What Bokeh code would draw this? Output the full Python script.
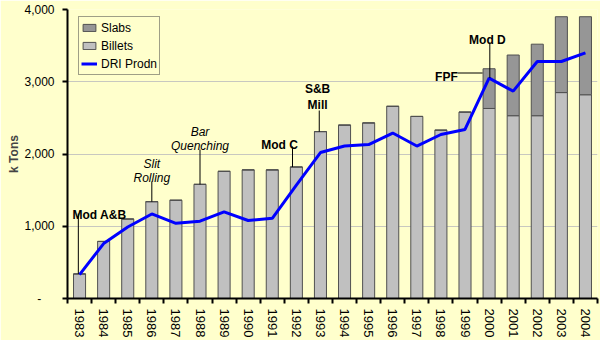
from bokeh.plotting import figure
from bokeh.models import (FixedTicker, Legend, LegendItem, NumeralTickFormatter,
                          Range1d, ColumnDataSource)
from bokeh.core.properties import value
from bokeh.embed import file_html
from bokeh.resources import INLINE

# ---- data ----
years = list(range(1983, 2005))
billets = [340, 790, 1100, 1340, 1360, 1580, 1760, 1780, 1780, 1820, 2310,
           2400, 2430, 2660, 2520, 2330, 2580, 2630, 2530, 2530, 2850, 2820]
slabs = [0] * 17 + [550, 840, 990, 1050, 1080]
dri = [330, 760, 990, 1170, 1040, 1070, 1200, 1080, 1110, 1570, 2020,
       2110, 2130, 2290, 2110, 2270, 2340, 3050, 2870, 3280, 3280, 3400]
y_ticks = [0, 1000, 2000, 3000, 4000]

# annotations (text, position)
ann_text = ["Mod A&B", "Slit", "Rolling", "Bar", "Quenching", "Mod C",
            "S&B", "Mill", "Mod D", "FPF"]
ann_x = [1983.83, 1986.0, 1986.0, 1988.0, 1988.0, 1991.3, 1992.88, 1992.88,
         1999.93, 1998.23]
ann_y = [1156, 1855, 1661, 2298, 2104, 2131, 2893, 2685, 3571, 3059]
ann_bold = [True, False, False, False, False, True, True, True, True, True]

lead_x0 = [1982.95, 1986.0, 1988.0, 1991.84, 1992.95, 2000.03, 1998.69]
lead_y0 = [340, 1340, 1580, 1820, 2310, 3050, 3121]
lead_x1 = [1982.95, 1986.0, 1988.0, 1991.84, 1992.95, 2000.03, 1999.73]
lead_y1 = [1176, 1619, 2062, 2104, 2602, 3543, 3121]

BG = "#FFFFCC"
FONT = "Liberation Sans"

src = ColumnDataSource(dict(year=years, billets=billets, slabs=slabs, dri=dri))

p = figure(width=600, height=340,
           x_range=Range1d(years[0] - 0.5, years[-1] + 0.5),
           y_range=Range1d(0, 4000),
           output_backend="svg", toolbar_location=None,
           min_border_left=67, min_border_right=3, min_border_top=9,
           min_border_bottom=42,
           background_fill_color=BG, border_fill_color=BG)
p.outline_line_color = None

bars = p.vbar_stack(["billets", "slabs"], x="year", width=0.5, source=src,
                    fill_color=["#C0C0C0", "#969696"],
                    line_color="#505050", line_width=1)
line = p.line(x="year", y="dri", source=src, line_color="#0000FF", line_width=3)

# annotations
bold_idx = [i for i, b in enumerate(ann_bold) if b]
ital_idx = [i for i, b in enumerate(ann_bold) if not b]
for idx, style in ((bold_idx, "bold"), (ital_idx, "italic")):
    s = ColumnDataSource(dict(x=[ann_x[i] for i in idx], y=[ann_y[i] for i in idx],
                              t=[ann_text[i] for i in idx]))
    p.text(x="x", y="y", text="t", source=s, text_font=value(FONT),
           text_font_size="12px", text_font_style=style, text_align="center",
           text_baseline="alphabetic", text_color="#000000")
p.segment(x0=lead_x0, y0=lead_y0, x1=lead_x1, y1=lead_y1,
          line_color="#000000", line_width=1)

# axes
xa = p.xaxis[0]
xa.ticker = FixedTicker(ticks=years,
                        minor_ticks=[y - 0.5 for y in years] + [years[-1] + 0.5])
xa.major_label_orientation = "vertical"
xa.major_tick_line_color = None
xa.major_tick_out = 5
xa.major_tick_in = 0
xa.minor_tick_out = 5
xa.minor_tick_in = 0
xa.minor_tick_line_color = "#000000"
xa.minor_tick_line_width = 2
xa.major_label_standoff = 5
xa.major_label_text_font = FONT
xa.major_label_text_font_size = "13px"
xa.major_label_text_color = "#000000"
xa.axis_line_color = "#000000"
xa.axis_line_width = 2

ya = p.yaxis[0]
ya.ticker = FixedTicker(ticks=y_ticks)
ya.formatter = NumeralTickFormatter(format="0,0")
ya.major_label_overrides = {0: "-\u00a0\u00a0\u00a0\u00a0"}
ya.major_tick_out = 5
ya.major_tick_in = 0
ya.major_tick_line_width = 2
ya.minor_tick_line_color = None
ya.major_label_standoff = 8
ya.major_label_text_font = FONT
ya.major_label_text_font_size = "12px"
ya.major_label_text_color = "#000000"
ya.axis_line_color = "#000000"
ya.axis_line_width = 2
ya.axis_label = "k Tons"
ya.axis_label_text_font = FONT
ya.axis_label_text_font_style = "bold"
ya.axis_label_text_font_size = "12px"
ya.axis_label_standoff = 0

p.xgrid.grid_line_color = None
p.ygrid.grid_line_color = "#C8C8C0"
p.ygrid.grid_line_width = 1

legend = Legend(items=[LegendItem(label="Slabs", renderers=[bars[1]]),
                       LegendItem(label="Billets", renderers=[bars[0]]),
                       LegendItem(label="DRI Prodn", renderers=[line])],
                location=(11, 223))
legend.background_fill_color = BG
legend.background_fill_alpha = 1
legend.border_line_color = "#404040"
legend.border_line_width = 1
legend.label_text_font = FONT
legend.label_text_font_size = "12px"
legend.label_text_color = "#000000"
legend.glyph_width = 16
legend.glyph_height = 9
legend.label_height = 17
legend.label_standoff = 4
legend.spacing = 1
legend.padding = 2
legend.margin = 0
p.add_layout(legend)

open("out.html", "w").write(file_html(p, INLINE))
